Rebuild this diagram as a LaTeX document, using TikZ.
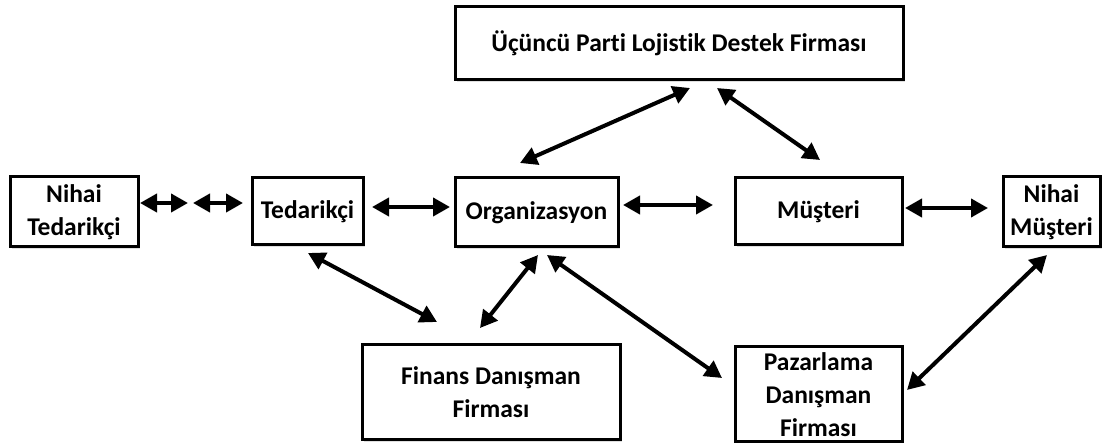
\documentclass[tikz,border=0pt]{standalone}
\usepackage{fontspec}
\setmainfont{Carlito}[Ligatures=NoCommon]
\usetikzlibrary{arrows.meta,shadows}
\begin{document}
\begin{tikzpicture}[x=1pt,y=-1pt,
  box/.style={draw, line width=3pt, fill=white, rectangle, align=center,
    font=\bfseries\fontsize{25.5}{33}\selectfont, inner sep=0pt,
    drop shadow={opacity=0.25, shadow xshift=2pt, shadow yshift=-2pt}},
  link/.style={line width=4pt, {Triangle[length=17pt,width=18pt]}-{Triangle[length=17pt,width=18pt]}}
]
\useasboundingbox (0,0) rectangle (1106,443);
\node[box, minimum width=448pt, minimum height=73pt] (ucuncu) at (679,43.5) {Üçüncü Parti Lojistik Destek Firması};
\node[box, minimum width=128pt, minimum height=70pt] (nted) at (74,212) {Nihai\\Tedarikçi};
\node[box, minimum width=111pt, minimum height=67pt] (ted) at (307.5,211.5) {Tedarikçi};
\node[box, minimum width=163pt, minimum height=69pt] (org) at (536.5,212.5) {Organizasyon};
\node[box, minimum width=167pt, minimum height=67pt] (mus) at (818.5,211.5) {Müşteri};
\node[box, minimum width=97pt, minimum height=70pt] (nmus) at (1051.5,212) {Nihai\\Müşteri};
\node[box, minimum width=258pt, minimum height=95pt] (fin) at (491,392.5) {Finans Danışman\\Firması};
\node[box, minimum width=167pt, minimum height=95pt] (paz) at (818.5,394.5) {Pazarlama\\Danışman\\Firması};

\coordinate (a1s) at (140,203); \coordinate (a1e) at (188,203);
\coordinate (a2s) at (193,203); \coordinate (a2e) at (243,203);
\coordinate (toA) at (372,207); \coordinate (toB) at (450,207);
\coordinate (omA) at (623,205); \coordinate (omB) at (713,205);
\coordinate (mnA) at (905,208); \coordinate (mnB) at (988,208);
\coordinate (uoA) at (690,88); \coordinate (uoB) at (520,163);
\coordinate (umA) at (717,88); \coordinate (umB) at (820,160);
\coordinate (tfA) at (308,253); \coordinate (tfB) at (437,322);
\coordinate (foA) at (480,328); \coordinate (foB) at (538,255);
\coordinate (opA) at (547,255); \coordinate (opB) at (722,378);
\coordinate (npA) at (1047,255); \coordinate (npB) at (907,390);

\draw[link] (a1s) -- (a1e);
\draw[link] (a2s) -- (a2e);
\draw[link] (toA) -- (toB);
\draw[link] (omA) -- (omB);
\draw[link] (mnA) -- (mnB);
\draw[link] (uoA) -- (uoB);
\draw[link] (umA) -- (umB);
\draw[link] (tfA) -- (tfB);
\draw[link] (foA) -- (foB);
\draw[link] (opA) -- (opB);
\draw[link] (npA) -- (npB);
\end{tikzpicture}
\end{document}
